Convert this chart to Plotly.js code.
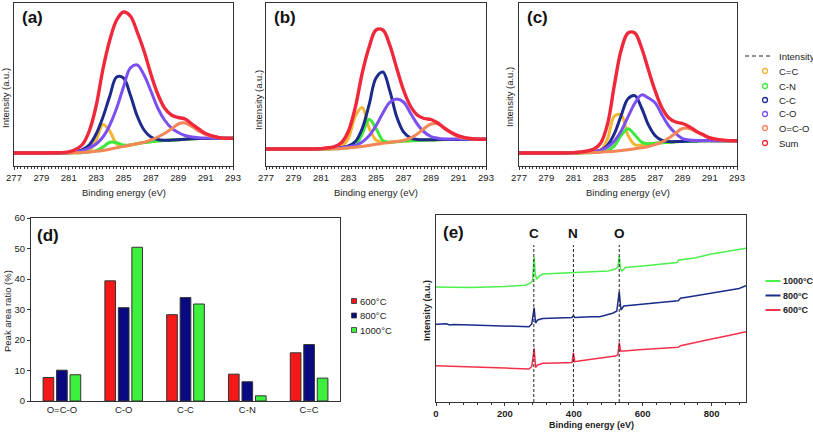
<!DOCTYPE html>
<html><head><meta charset="utf-8">
<script src="https://cdn.plot.ly/plotly-3.0.1.min.js"></script>
<style>html,body{margin:0;padding:0;background:#fff}#chart{width:813px;height:432px}</style>
</head><body><div id="chart"></div>
<script>
// ---- C1s fits, panels (a)-(c): binding energy grid (eV) ----
const bindingEnergy = [277,278,279,280,281,281.5,282,282.5,283,283.5,284,284.5,285,285.5,286,286.5,287,287.5,288,288.5,289,289.5,290,290.5,291,292,293];

// (a) 600°C
const aCeqC = [0,0,0,0,0,0.2,0.6,2.4,12.8,28.5,22,8.8,6.8,8,9.3,10.4,11.3,12,12.5,12.9,13.3,13.8,14.2,14.5,14.6,14.7,14.7];
const aCN   = [0,0,0,0,0,0.2,0.5,1.1,2.3,6,10.7,10.3,8,8.1,9.3,10.4,11.3,12,12.5,12.9,13.3,13.8,14.2,14.5,14.6,14.7,14.7];
const aCC   = [0,0,0,0,0.5,1.5,3.5,8,19,36,57,76,75,58,37,23,16,13.5,12.8,12.9,13.3,13.8,14.2,14.5,14.6,14.7,14.7];
const aCO   = [0,0,0,0,0.3,1,2.5,5,9,16,28,45,66,85,88,78,62,45,33,25,20.5,17.5,16,15.3,15,14.7,14.7];
const aOCO  = [0,0,0,0,0,0.2,0.5,1,1.7,2.6,3.8,5.2,6.6,8,9.4,10.6,13,16,19.5,24,29,30,26.5,22,18.5,15.3,14.8];
const aSum  = [0,0,0,0.2,1.2,3.5,8.5,22,47,84,113,133,141,137,121,102,79,59,45,38,35.5,34,29,24,19.5,15.3,14.7];

// (b) 800°C
const bCeqC = [0,0,0,0,0,0.1,0.6,2.5,11,33,41.5,21,9,6.5,6.8,7.4,7.9,8.3,8.6,8.8,9,9.2,9.4,9.5,9.6,9.7,9.7];
const bCN   = [0,0,0,0,0,0.1,0.3,0.6,1.2,3.4,15.1,29.7,20.7,8.5,6.7,7.3,7.9,8.3,8.6,8.8,9,9.2,9.4,9.5,9.6,9.7,9.7];
const bCC   = [0,0,0,0,0.3,0.6,0.8,1.5,3,7.4,20.5,44.3,71,77,58.4,32.5,17.1,11.1,9.4,9.3,9.3,9.4,9.5,9.6,9.6,9.7,9.7];
const bCO   = [0,0,0,0,0.2,0.5,0.8,1.2,2.2,3.7,7,13.2,23.2,36,46.6,49.9,47,36,25,17,12.5,10.8,10.1,10,9.9,9.7,9.7];
const bOCO  = [0,0,0,0,0,0.1,0.3,0.6,1.1,1.7,2.6,3.6,4.7,5.7,6.6,7.5,8.6,10.8,14.9,20.5,25,25.2,21.1,15.8,12.1,9.9,9.7];
const bSum  = [0,0,0,0,0.4,1.2,2.5,6.5,18,42,76,102,119,119,104,81,59,43,34,30.5,29.5,26,20.5,16.3,13.2,10.3,9.7];

// (c) 1000°C
const cCeqC = [0,0,0,0,0,0.1,0.5,1,2.8,14.3,36.8,38,17.8,8.3,7.8,8.8,9.7,10.3,10.8,11.2,11.5,11.8,12,12.2,12.3,12.3,12.3];
const cCN   = [0,0,0,0,0,0.1,0.3,0.6,1.2,2.4,7.1,17.6,24.2,18.1,10.9,9.2,9.7,10.3,10.8,11.2,11.5,11.8,12,12.2,12.3,12.3,12.3];
const cCC   = [0,0,0,0,0.2,0.4,0.6,1.2,3,7.8,19.3,37.5,54.3,57.4,45,28.1,17.3,12.6,11.4,11.4,11.6,11.9,12.1,12.2,12.3,12.3,12.3];
const cCO   = [0,0,0,0,0.2,0.4,0.7,1.4,2.9,6,12.1,22.1,36.1,49.8,58.1,55,50,38,27,19.5,14.4,13.1,12.5,12.5,12.4,12.3,12.3];
const cOCO  = [0,0,0,0,0,0.1,0.3,0.5,0.8,1.3,1.8,2.5,3.3,4.2,5.2,6.5,8.3,11,15,20,24.5,24.5,21.5,18,15.3,12.8,12.3];
const cSum  = [0,0,0,0,0.4,1,2,4,10,29,68,103,120,120,105,83,62,45,35,31,29.5,26.3,21.8,18.5,15.2,12.9,12.3];

const componentNames = ['C=C','C-N','C-C','C-O','O=C-O','Sum'];
const componentColors = ['#f2b632','#3de83d','#1c2a8c','#7c4ff0','#f48658','#f0283c'];

// ---- (d) peak area ratios ----
const peakCategories = ['O=C-O','C-O','C-C','C-N','C=C'];
const ratio600  = [7.7,39.4,28.3,8.8,15.8];
const ratio800  = [10.1,30.6,33.9,6.3,18.5];
const ratio1000 = [8.6,50.4,31.8,1.7,7.5];
const tempNames = ['600°C','800°C','1000°C'];
const barColors = ['#f51818','#0a0a80','#3ef03e'];

// ---- (e) survey spectra ----
const survey1000X = [0,100,200,260,275,280,285,288,292,300,310,350,400,450,500,520,528,532,536,540,550,600,650,700,705,750,800,850,900];
const survey1000Y = [115,114.5,115.5,116.7,119,121,145,128,122.7,126,128,128.5,129.3,130,131,133,135,146,133,131,134.5,136,137.5,139.5,142,144,148,150.5,153.7];
const survey800X = [0,30,40,50,100,200,270,278,285,289,295,310,395,399,403,450,476,515,525,532,537,545,600,650,703,710,750,800,850,880,900];
const survey800Y = [77.7,78.2,77,77.6,77,76,75.3,78,94.3,79,82,83.5,84.5,86.5,84.5,85.3,85.3,89,91,110.3,92,96,97.5,99.5,101.3,103.7,106,109,112,113.5,116.3];
const survey600X = [0,100,200,270,278,285,289,295,310,350,395,399,403,420,476,520,528,532,536,545,600,650,703,710,750,800,850,900];
const survey600Y = [36.3,35.5,34,33,35.5,53.7,34.5,37,38.7,39,39.5,49.3,40.3,41.3,43.7,46,47,59.3,51,51,52.5,53.5,54.7,56.3,59.5,63,66.5,70.3];
const surveyColors = {'1000°C':'#4cf04c','800°C':'#1a2d8a','600°C':'#f5304a'};
const elementLabels = ['C','N','O'];
const elementPositions = [284,399,532];

// ---- helpers ----
const W = 813, H = 432;
const px = x => x / W;
const py = y => 1 - y / H;
const FONT = 'Arial, "Liberation Sans", sans-serif';
const TXT = '#222';

const traces = [];
function addXps(series, xa, ya) {
  series.forEach((s, i) => {
    traces.push({
      type: 'scatter', mode: 'lines', x: bindingEnergy, y: s,
      name: componentNames[i], xaxis: xa, yaxis: ya, showlegend: false,
      line: {color: componentColors[i], width: i === 5 ? 3.4 : 3, shape: 'spline', smoothing: 1}
    });
  });
}
addXps([aCeqC,aCN,aCC,aCO,aOCO,aSum], 'x', 'y');
addXps([bCeqC,bCN,bCC,bCO,bOCO,bSum], 'x2', 'y2');
addXps([cCeqC,cCN,cCC,cCO,cOCO,cSum], 'x3', 'y3');

[ratio600, ratio800, ratio1000].forEach((r, i) => {
  traces.push({
    type: 'bar', x: peakCategories, y: r, name: tempNames[i],
    xaxis: 'x4', yaxis: 'y4', showlegend: false,
    marker: {color: barColors[i], line: {color: '#333', width: 1}}
  });
});

[[survey1000X, survey1000Y, '1000°C'], [survey800X, survey800Y, '800°C'], [survey600X, survey600Y, '600°C']].forEach(([x, y, n]) => {
  traces.push({
    type: 'scatter', mode: 'lines', x: x, y: y, name: n,
    xaxis: 'x5', yaxis: 'y5', showlegend: false,
    line: {color: surveyColors[n], width: 1.5}
  });
});

const boxAxis = {showline: true, mirror: true, linecolor: '#333', linewidth: 1, showgrid: false, zeroline: false};
function xpsX(l, r, anchor) {
  return Object.assign({}, boxAxis, {
    domain: [px(l), px(r)], range: [277, 293], anchor: anchor,
    tick0: 277, dtick: 2, ticks: 'outside', ticklen: 3, tickcolor: '#333',
    minor: {dtick: 0.25, ticks: 'outside', ticklen: 2, tickcolor: '#333'},
    tickfont: {size: 9.5, color: TXT}
  });
}
function xpsY(range, anchor) {
  return Object.assign({}, boxAxis, {
    domain: [py(166), py(3)], range: range, anchor: anchor,
    showticklabels: false, ticks: ''
  });
}

const annotations = [];
const shapes = [];
function ann(x, y, text, opts) {
  annotations.push(Object.assign({xref: 'paper', yref: 'paper', x: px(x), y: py(y), text: text,
    showarrow: false, xanchor: 'center', yanchor: 'middle', font: {size: 9.5, color: TXT}}, opts || {}));
}
// panel letters
ann(32, 17, '<b>(a)</b>', {font: {size: 17, color: '#111'}});
ann(285, 17, '<b>(b)</b>', {font: {size: 17, color: '#111'}});
ann(537, 17, '<b>(c)</b>', {font: {size: 17, color: '#111'}});
ann(48, 235, '<b>(d)</b>', {font: {size: 17, color: '#111'}});
ann(453, 232, '<b>(e)</b>', {font: {size: 17, color: '#111'}});
// axis titles (a)-(c)
[[5, 98, 123.5], [258, 100, 376], [510, 97, 628]].forEach(([yx, yy, xc]) => {
  ann(yx, yy, 'Intensity (a.u.)', {textangle: -90});
  ann(xc, 192, 'Binding energy (eV)');
});
// (d) and (e) titles
ann(7, 311, 'Peak area ratio (%)', {textangle: -90});
ann(427, 311, '<b>Intensity (a.u.)</b>', {textangle: -90, font: {size: 9, color: TXT}});
ann(591, 425, '<b>Binding energy (eV)</b>', {font: {size: 9, color: TXT}});

// legend for (a)-(c)
ann(777, 56, 'Intensity', {xanchor: 'left'});
shapes.push({type: 'line', xref: 'paper', yref: 'paper', x0: px(745), x1: px(772), y0: py(56), y1: py(56),
  line: {color: '#222', width: 1, dash: '4px,3px'}});
const legYs = [71, 86, 100, 114, 128, 143];
componentNames.forEach((n, i) => {
  const yc = legYs[i];
  shapes.push({type: 'circle', xref: 'paper', yref: 'paper', x0: px(762.5), x1: px(767.5), y0: py(yc + 2.5), y1: py(yc - 2.5),
    line: {color: componentColors[i], width: 1.3}});
  ann(777, yc, n, {xanchor: 'left'});
});
// legend for (d)
[301, 315.5, 330].forEach((yc, i) => {
  shapes.push({type: 'rect', xref: 'paper', yref: 'paper', x0: px(351.5), x1: px(356.5), y0: py(yc + 2.5), y1: py(yc - 2.5),
    fillcolor: barColors[i], line: {color: '#333', width: 0.8}});
  ann(358, yc, tempNames[i], {xanchor: 'left'});
});
// legend for (e)
[['1000°C', 281], ['800°C', 295.5], ['600°C', 310]].forEach(([n, yc]) => {
  shapes.push({type: 'line', xref: 'paper', yref: 'paper', x0: px(765.5), x1: px(780.5), y0: py(yc), y1: py(yc),
    line: {color: surveyColors[n], width: 2}});
  ann(781, yc, '<b>' + n + '</b>', {xanchor: 'left', font: {size: 9, color: TXT}});
});
// (e) element markers
elementLabels.forEach((lab, i) => {
  shapes.push({type: 'line', xref: 'x5', yref: 'y5', x0: elementPositions[i], x1: elementPositions[i], y0: 0, y1: 157,
    line: {color: '#222', width: 1, dash: '3px,2px'}});
  annotations.push({xref: 'x5', yref: 'y5', x: elementPositions[i], y: 168, text: '<b>' + lab + '</b>', showarrow: false,
    font: {size: 13.5, color: '#111'}, xanchor: 'center', yanchor: 'middle'});
});

const layout = {
  width: W, height: H, margin: {l: 0, r: 0, t: 0, b: 0},
  paper_bgcolor: '#fff', plot_bgcolor: '#fff',
  font: {family: FONT, color: TXT, size: 9.5},
  showlegend: false,
  bargap: 0.345, bargroupgap: 0.21, barmode: 'group',
  xaxis: xpsX(14, 233, 'y'),
  yaxis: xpsY([-13, 150], 'x'),
  xaxis2: xpsX(266, 486, 'y2'),
  yaxis2: xpsY([-17, 146], 'x2'),
  xaxis3: xpsX(519, 737, 'y3'),
  yaxis3: xpsY([-13, 150], 'x3'),
  xaxis4: Object.assign({}, boxAxis, {domain: [px(31), px(340)], anchor: 'y4', type: 'category',
    ticks: '', tickfont: {size: 9.5, color: TXT}}),
  yaxis4: Object.assign({}, boxAxis, {domain: [py(401), py(218)], anchor: 'x4', range: [0, 60], dtick: 10,
    ticks: 'outside', ticklen: 3, tickcolor: '#333', tickfont: {size: 9.5, color: TXT}}),
  xaxis5: Object.assign({}, boxAxis, {domain: [px(436), px(746)], anchor: 'y5', range: [0, 900], tick0: 0, dtick: 200,
    ticks: 'outside', ticklen: 3, tickcolor: '#333',
    minor: {dtick: 40, ticks: 'outside', ticklen: 2, tickcolor: '#333'},
    tickfont: {size: 9.5, color: TXT, weight: 'bold'}}),
  yaxis5: Object.assign({}, boxAxis, {domain: [py(402), py(215)], anchor: 'x5', range: [0, 187],
    showticklabels: false, ticks: ''}),
  annotations: annotations,
  shapes: shapes
};

Plotly.newPlot('chart', traces, layout, {displayModeBar: false, staticPlot: true});
</script></body></html>
